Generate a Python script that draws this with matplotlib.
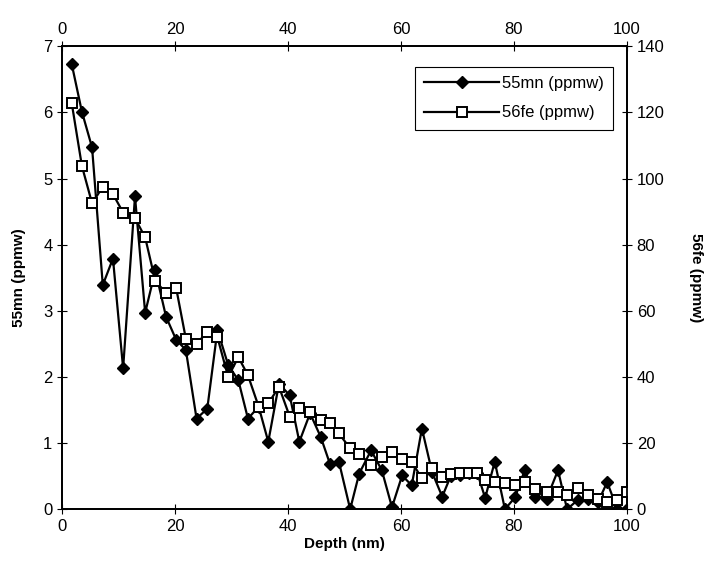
import numpy as np
import matplotlib.pyplot as plt

plt.rcParams['font.family'] = ['Liberation Sans', 'DejaVu Sans']

# Depth (nm) of each sample
depth = [1.7, 3.5, 5.3, 7.2, 9.0, 10.8, 12.9, 14.7, 16.5, 18.4,
         20.2, 21.9, 23.8, 25.7, 27.5, 29.4, 31.2, 32.9, 34.8, 36.5,
         38.4, 40.3, 42.0, 43.9, 45.8, 47.4, 49.0, 51.0, 52.6, 54.7,
         56.6, 58.4, 60.2, 61.9, 63.7, 65.5, 67.3, 68.8, 70.4, 72.0,
         73.5, 74.9, 76.6, 78.4, 80.2, 81.9, 83.7, 85.8, 87.8, 89.4,
         91.3, 93.1, 94.9, 96.5, 98.3, 100.0]

# 55mn (ppmw), left axis
mn55 = [6.73, 6.01, 5.47, 3.39, 3.79, 2.13, 4.73, 2.97, 3.61, 2.91,
        2.56, 2.41, 1.37, 1.52, 2.71, 2.18, 1.95, 1.37, 1.55, 1.02,
        1.90, 1.72, 1.02, 1.45, 1.09, 0.69, 0.72, 0.0, 0.54, 0.89,
        0.59, 0.03, 0.51, 0.36, 1.22, 0.56, 0.19, 0.50, 0.52, 0.55,
        0.55, 0.17, 0.72, 0.0, 0.18, 0.59, 0.19, 0.16, 0.59, 0.0,
        0.14, 0.16, 0.11, 0.41, 0.0, 0.0]

# 56fe (ppmw), right axis
fe56 = [122.8, 103.8, 92.5, 97.5, 95.3, 89.7, 88.0, 82.2, 69.0, 65.4,
        66.8, 51.6, 50.0, 53.6, 52.0, 40.0, 46.0, 40.5, 31.0, 32.0,
        37.0, 28.0, 30.5, 29.4, 27.0, 26.0, 22.9, 18.4, 16.8, 13.3,
        15.8, 17.3, 15.3, 14.3, 9.3, 12.4, 9.8, 10.5, 11.0, 11.0,
        11.0, 8.8, 8.3, 7.9, 7.3, 8.3, 6.0, 5.2, 5.2, 4.2,
        6.3, 4.2, 3.2, 2.2, 2.7, 5.2]

fig = plt.figure(figsize=(7.06, 5.78), dpi=100)
ax = fig.add_axes([0.088, 0.119, 0.800, 0.801])
ax2 = ax.twinx()

l1, = ax.plot(depth, mn55, color='black', lw=1.6, marker='D', ms=6.5,
              mfc='black', mec='black', label='55mn (ppmw)')
l2, = ax2.plot(depth, fe56, color='black', lw=1.6, marker='s', ms=7,
               mfc='white', mec='black', mew=1.4, label='56fe (ppmw)')

ax.set_xlim(0, 100)
ax.set_ylim(0, 7)
ax2.set_ylim(0, 140)
ax.set_xticks(np.arange(0, 101, 20))
ax.set_yticks(np.arange(0, 8, 1))
ax2.set_yticks(np.arange(0, 141, 20))

ax.tick_params(axis='x', top=True, labeltop=True, direction='inout',
               length=7, labelsize=12)
ax.tick_params(axis='y', direction='inout', length=7, labelsize=12)
ax2.tick_params(axis='y', direction='inout', length=7, labelsize=12)

for a in (ax, ax2):
    for s in a.spines.values():
        s.set_linewidth(1.3)

ax.set_xlabel('Depth (nm)', fontsize=11, fontweight='bold', labelpad=2)
ax.set_ylabel('55mn (ppmw)', fontsize=11, fontweight='bold', labelpad=12)
ax2.set_ylabel('56fe (ppmw)', fontsize=11, fontweight='bold',
               rotation=270, labelpad=28)

leg = ax2.legend(handles=[l1, l2], loc='upper right',
                 bbox_to_anchor=(0.975, 0.955), fontsize=12, fancybox=False,
                 framealpha=1, edgecolor='black', handlelength=4.5,
                 handletextpad=0.15, borderpad=0.55, labelspacing=0.85,
                 borderaxespad=0)
leg.get_frame().set_linewidth(0.8)

fig.savefig('out.png', dpi=100)
